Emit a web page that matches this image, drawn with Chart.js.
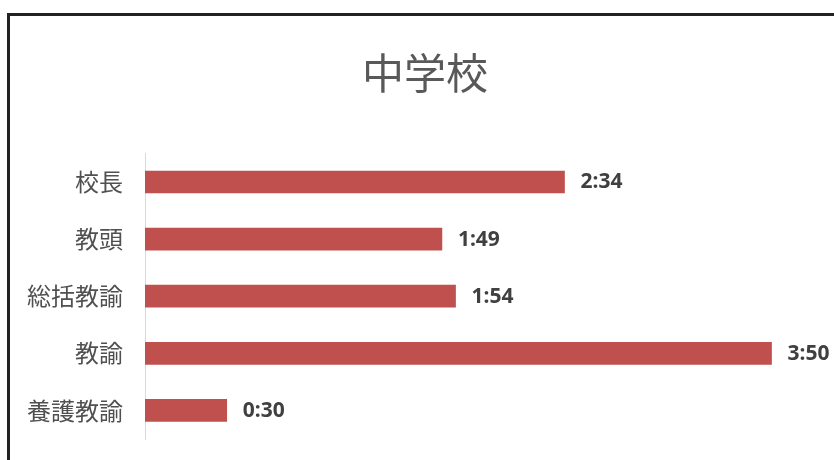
<!DOCTYPE html>
<html>
<head>
<meta charset="utf-8">
<script src="https://cdn.jsdelivr.net/npm/chart.js@4"></script>
<style>
  html, body { margin: 0; padding: 0; background: #fff; overflow: hidden; }
  #wrap { position: relative; width: 834px; height: 460px; }
  #frame { position: absolute; left: 7px; top: 13px; width: 900px; height: 600px;
           border: 3px solid #222; box-sizing: border-box; pointer-events: none; }
  canvas { position: absolute; left: 0; top: 0; }
</style>
</head>
<body>
<div id="wrap">
  <canvas id="c" width="834" height="460"></canvas>
  <div id="frame"></div>
</div>
<script>
const chartTitle = '中学校';
const categories = ['校長', '教頭', '総括教諭', '教諭', '養護教諭'];
const minutes = [154, 109, 114, 230, 30];

function fmt(m) {
  const h = Math.floor(m / 60);
  const mm = m % 60;
  return h + ':' + (mm < 10 ? '0' : '') + mm;
}

const valueLabelPlugin = {
  id: 'valueLabels',
  afterDatasetsDraw(chart) {
    const ctx = chart.ctx;
    const meta = chart.getDatasetMeta(0);
    ctx.save();
    ctx.font = 'bold 21px "Noto Sans", "Open Sans", sans-serif';
    ctx.fillStyle = '#404040';
    ctx.textAlign = 'left';
    ctx.textBaseline = 'middle';
    meta.data.forEach((bar, i) => {
      ctx.fillText(fmt(minutes[i]), bar.x + 16, bar.y + 0.5);
    });
    ctx.restore();
  }
};

new Chart(document.getElementById('c'), {
  type: 'bar',
  data: {
    labels: categories,
    datasets: [{
      data: minutes,
      backgroundColor: '#c0504d',
      borderWidth: 0,
      barThickness: 22
    }]
  },
  plugins: [valueLabelPlugin],
  options: {
    indexAxis: 'y',
    responsive: false,
    animation: false,
    layout: { padding: { left: 24, right: 8, top: 0, bottom: 21 } },
    plugins: {
      legend: { display: false },
      tooltip: { enabled: false },
      title: {
        display: true,
        text: chartTitle,
        color: '#595959',
        font: { family: '"Noto Sans CJK JP", sans-serif', size: 42, weight: 'normal', lineHeight: 1.2 },
        padding: { top: 48, bottom: 55 }
      }
    },
    scales: {
      x: {
        display: false,
        min: 0,
        max: 250
      },
      y: {
        afterFit(scale) {
          scale.width = 121;
          scale.paddingTop = 0;
          scale.paddingBottom = 0;
        },
        grid: { display: false },
        border: { display: true, color: '#d9d9d9', width: 1 },
        ticks: {
          color: '#505050',
          padding: 14,
          font: { family: '"Noto Sans CJK JP", sans-serif', size: 24 }
        }
      }
    }
  }
});
</script>
</body>
</html>
